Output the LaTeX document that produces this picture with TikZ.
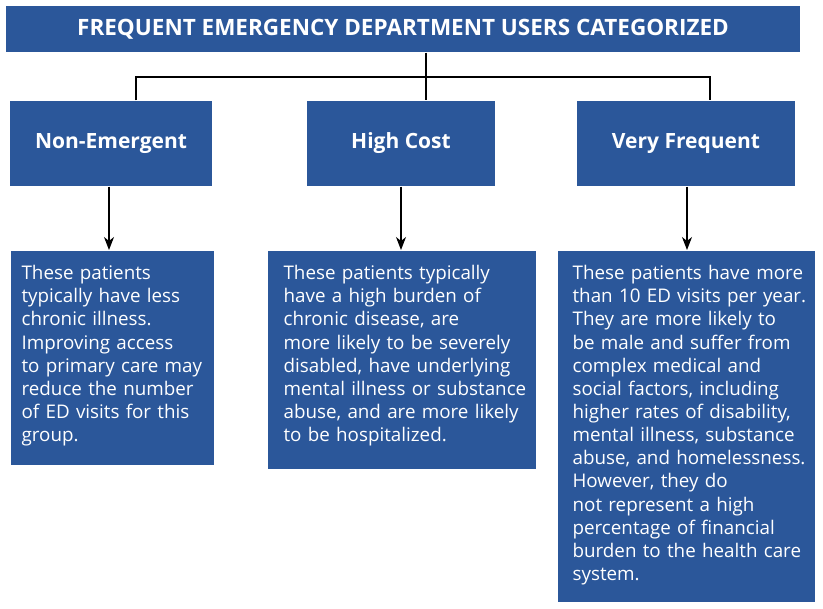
\documentclass[tikz,border=0pt]{standalone}
\usepackage{fontspec}
\setmainfont{Open Sans}
\usetikzlibrary{arrows.meta,positioning,calc}
\definecolor{edblue}{RGB}{43,87,154}
\tikzset{every picture/.style={line width=1.2pt}}
\tikzset{
    banner/.style={fill=edblue, text=white, font=\bfseries\fontsize{22.5}{26}\selectfont,
        minimum width=794pt, minimum height=46pt, inner sep=0pt},
    group/.style={fill=edblue, text=white, font=\bfseries\fontsize{21}{25}\selectfont,
        minimum height=85pt, inner sep=0pt},
    detail/.style={fill=edblue, text=white, font=\fontsize{18.8}{23.15}\selectfont,
        anchor=north west, align=left, inner sep=0pt, text height=29pt},
    lmargin/.style={execute at begin node={\leftskip=#1}},
    link/.style={draw=black, line width=1.2pt},
    feed/.style={link, -{Stealth[length=13pt,width=10pt,inset=4pt]}},
}

\begin{document}
\begin{tikzpicture}[x=1pt,y=-1pt]
    \useasboundingbox (0,0) rectangle (823,609);
    % title and categories
    \node[banner] (title) at (403,29) {FREQUENT EMERGENCY DEPARTMENT USERS CATEGORIZED};
    \node[group, minimum width=202pt] (nonem) at (111,143.5) {Non-Emergent};
    \node[group, minimum width=188pt] (cost) at (401,143.5) {High Cost};
    \node[group, minimum width=218pt] (freq) at (686,143.5) {Very Frequent};
    % descriptions
    \node[detail, lmargin=11pt, text width=203pt, text depth=185pt] (nonemtxt) at (10,250)
        {These patients\\typically have less\\chronic illness.\\Improving access\\to primary care may\\reduce the number\\of ED visits for this\\group.};
    \node[detail, lmargin=16pt, text width=268pt, text depth=189pt] (costtxt) at (267,250)
        {These patients typically\\have a high burden of\\chronic disease, are\\more likely to be severely\\disabled, have underlying\\mental illness or substance\\abuse, and are more likely\\to be hospitalized.};
    \node[detail, lmargin=15pt, text width=257pt, text depth=322pt] (freqtxt) at (557,250)
        {These patients have more\\than 10 ED visits per year.\\They are more likely to\\be male and suffer from\\complex medical and\\social factors, including\\higher rates of disability,\\mental illness, substance\\abuse, and homelessness.\\However, they do\\not represent a high\\percentage of financial\\burden to the health care\\system.};
    % tree lines
    \coordinate (busl) at (136,77);
    \coordinate (busm) at (426,77);
    \coordinate (busr) at (710,77);
    \draw[link] (busm |- title.south) -- (busm |- cost.north);
    \draw[link] (busl |- nonem.north) -- (busl) -- (busr) -- (busr |- freq.north);
    \draw[feed] (nonem.south -| 109,0) -- (nonemtxt.north -| 109,0);
    \draw[feed] (cost.south) -- (cost.south |- costtxt.north);
    \draw[feed] (freq.south -| 687,0) -- (freqtxt.north -| 687,0);
\end{tikzpicture}
\end{document}
